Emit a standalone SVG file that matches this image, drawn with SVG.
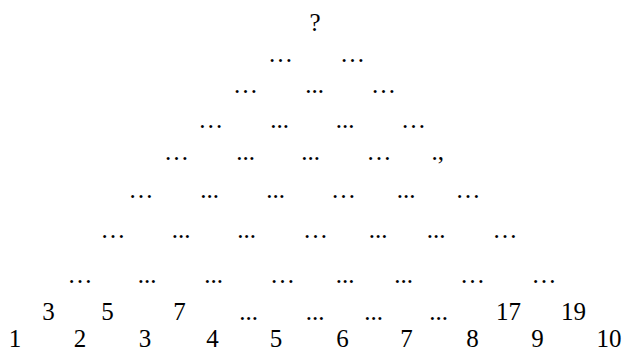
<svg xmlns="http://www.w3.org/2000/svg" width="625" height="349" viewBox="0 0 625 349">
<style>
text{font-family:"Liberation Serif","Times New Roman",serif;font-size:25px;fill:#000;text-anchor:middle}
.s{text-anchor:start}
</style>
<rect width="625" height="349" fill="#fff"/>
<g id="connectors"/>
<g id="top"><text x="315" y="31">?</text></g>
<g id="r1">
<g id="r1c1"><text x="280.5" y="62">…</text></g>
<g id="r1c2"><text x="352.5" y="62">…</text></g>
</g>
<g id="r2">
<g id="r2c1"><text x="245.5" y="93">…</text></g>
<g id="r2c2"><text x="314.5" y="93">...</text></g>
<g id="r2c3"><text x="383.5" y="93">…</text></g>
</g>
<g id="r3">
<g id="r3c1"><text x="210.7" y="128">…</text></g>
<g id="r3c2"><text x="279.5" y="128">...</text></g>
<g id="r3c3"><text x="345" y="128">...</text></g>
<g id="r3c4"><text x="413.5" y="128">…</text></g>
</g>
<g id="r4">
<g id="r4c1"><text x="176.5" y="160">…</text></g>
<g id="r4c2"><text x="245.5" y="160">...</text></g>
<g id="r4c3"><text x="310.5" y="160">...</text></g>
<g id="r4c4"><text x="379" y="160">…</text></g>
<g id="r4c5"><text class="s" x="431.5" y="160">.,</text></g>
</g>
<g id="r5">
<g id="r5c1"><text x="141" y="198">…</text></g>
<g id="r5c2"><text x="209.5" y="198">...</text></g>
<g id="r5c3"><text x="275.5" y="198">...</text></g>
<g id="r5c4"><text x="343.5" y="198">…</text></g>
<g id="r5c5"><text x="406" y="198">...</text></g>
<g id="r5c6"><text x="468" y="198">…</text></g>
</g>
<g id="r6">
<g id="r6c1"><text x="113" y="238">…</text></g>
<g id="r6c2"><text x="181" y="238">...</text></g>
<g id="r6c3"><text x="246.7" y="238">...</text></g>
<g id="r6c4"><text x="315.5" y="238">…</text></g>
<g id="r6c5"><text x="378" y="238">...</text></g>
<g id="r6c6"><text x="436" y="238">...</text></g>
<g id="r6c7"><text x="505" y="238">…</text></g>
</g>
<g id="r7">
<g id="r7c1"><text x="80" y="283">…</text></g>
<g id="r7c2"><text x="147" y="283">...</text></g>
<g id="r7c3"><text x="213.5" y="283">...</text></g>
<g id="r7c4"><text x="282.5" y="283">…</text></g>
<g id="r7c5"><text x="345" y="283">...</text></g>
<g id="r7c6"><text x="403.5" y="283">...</text></g>
<g id="r7c7"><text x="472.5" y="283">…</text></g>
<g id="r7c8"><text x="544" y="283">…</text></g>
</g>
<g id="r8">
<g id="r8c1"><text x="48.5" y="320">3</text></g>
<g id="r8c2"><text x="107.5" y="320">5</text></g>
<g id="r8c3"><text x="179.5" y="320">7</text></g>
<g id="r8c4"><text x="248.5" y="320">...</text></g>
<g id="r8c5"><text x="315" y="320">...</text></g>
<g id="r8c6"><text x="373.5" y="320">...</text></g>
<g id="r8c7"><text x="438.5" y="320">...</text></g>
<g id="r8c8"><text x="508.5" y="320">17</text></g>
<g id="r8c9"><text x="573.5" y="320">19</text></g>
</g>
<g id="r9">
<g id="r9c1"><text x="15" y="347">1</text></g>
<g id="r9c2"><text x="80" y="347">2</text></g>
<g id="r9c3"><text x="145" y="347">3</text></g>
<g id="r9c4"><text x="212.5" y="347">4</text></g>
<g id="r9c5"><text x="276" y="347">5</text></g>
<g id="r9c6"><text x="342.5" y="347">6</text></g>
<g id="r9c7"><text x="406.5" y="347">7</text></g>
<g id="r9c8"><text x="472.5" y="347">8</text></g>
<g id="r9c9"><text x="537.5" y="347">9</text></g>
<g id="r9c10"><text x="609" y="347">10</text></g>
</g>
</svg>
